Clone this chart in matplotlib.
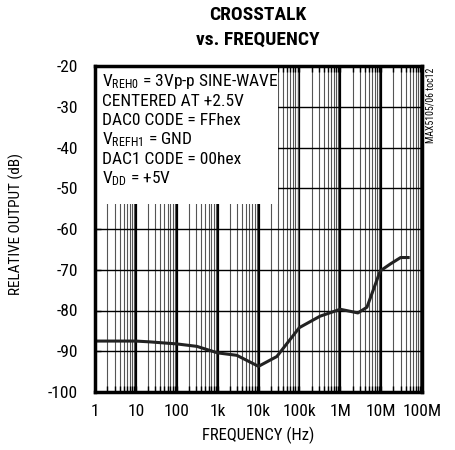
import matplotlib
matplotlib.use("Agg")
import matplotlib.pyplot as plt
from matplotlib.ticker import LogLocator, FixedLocator, NullFormatter
from matplotlib.patches import Rectangle

FONT = ["Roboto Condensed", "DejaVu Sans"]
plt.rcParams["font.family"] = FONT
plt.rcParams["mathtext.fontset"] = "custom"
plt.rcParams["mathtext.rm"] = FONT[0]
plt.rcParams["mathtext.default"] = "rm"

# Crosstalk curve (frequency in Hz, relative output in dB)
freq_hz = [1, 10, 22, 100, 310, 1000, 2950, 10000, 28000, 100000, 320000,
           1000000, 1750000, 2700000, 4500000, 9500000, 16700000, 30000000, 50000000]
rel_db = [-87.5, -87.5, -87.7, -88.2, -88.8, -90.4, -91.0, -93.7, -91.3, -84.2, -81.4,
          -79.7, -80.2, -80.6, -79.2, -70.3, -68.6, -67.0, -67.0]

x_ticks = [1, 10, 100, 1e3, 1e4, 1e5, 1e6, 1e7, 1e8]
x_labels = ["1", "10", "100", "1k", "10k", "100k", "1M", "10M", "100M"]
y_ticks = [-100, -90, -80, -70, -60, -50, -40, -30, -20]
y_labels = ["-100", "-90", "-80", "-70", "-60", "-50", "-40", "-30", "-20"]

conditions = [
    r"$V_{REH0}$ = 3Vp-p SINE-WAVE",
    "CENTERED AT +2.5V",
    "DAC0 CODE = FFhex",
    r"$V_{REFH1}$ = GND",
    "DAC1 CODE = 00hex",
    r"$V_{DD}$ = +5V",
]

fig = plt.figure(figsize=(4.55, 4.5), dpi=100)
ax = fig.add_axes([95 / 455, 1 - 392 / 450, 327 / 455, 326 / 450])

ax.set_xscale("log")
ax.set_xlim(1, 1e8)
ax.set_ylim(-100, -20)

ax.xaxis.set_major_locator(FixedLocator(x_ticks))
ax.set_xticklabels(x_labels)
ax.xaxis.set_minor_locator(LogLocator(base=10, subs=range(2, 10), numticks=100))
ax.xaxis.set_minor_formatter(NullFormatter())
ax.set_yticks(y_ticks)
ax.set_yticklabels(y_labels)

ax.grid(which="major", axis="x", color="black", linewidth=1.6, zorder=1)
ax.grid(which="minor", axis="x", color="#555555", linewidth=0.8, zorder=1)
ax.grid(which="major", axis="y", color="black", linewidth=1.0, zorder=1)
ax.set_axisbelow(True)

ax.tick_params(which="both", direction="in", top=True, right=False,
               labelsize=12.5, width=1.0, length=4)
ax.tick_params(axis="x", pad=9)
ax.tick_params(axis="y", pad=12.5)
for s in ax.spines.values():
    s.set_linewidth(2.5)
    s.set_zorder(5)

# white panel behind the test conditions
ax.add_patch(Rectangle((0, 0.577), 0.56, 0.423, transform=ax.transAxes,
                       facecolor="white", edgecolor="none", zorder=2))
y0 = 0.952
for i, line in enumerate(conditions):
    ax.text(0.022, y0 - i * 0.0598, line, transform=ax.transAxes,
            fontsize=12.5, va="center", ha="left", zorder=3)

ax.plot(freq_hz, rel_db, color="#222222", linewidth=2.2, zorder=4,
        solid_capstyle="butt")

ax.set_xlabel("FREQUENCY (Hz)", fontsize=12, labelpad=5)
ax.set_ylabel("RELATIVE OUTPUT (dB)", fontsize=11)
ax.yaxis.set_label_coords(-0.217, 0.515)

fig.text(258 / 455, 1 - 15 / 450, "CROSSTALK", ha="center", va="center",
         fontsize=14, fontweight=900)
fig.text(258 / 455, 1 - 40 / 450, "vs. FREQUENCY", ha="center", va="center",
         fontsize=14, fontweight=900)
fig.text(431 / 455, 1 - 68 / 450, "MAX5105/06 toc12", ha="center", va="top",
         rotation=90, fontsize=7)

fig.savefig("out.png", dpi=100)
